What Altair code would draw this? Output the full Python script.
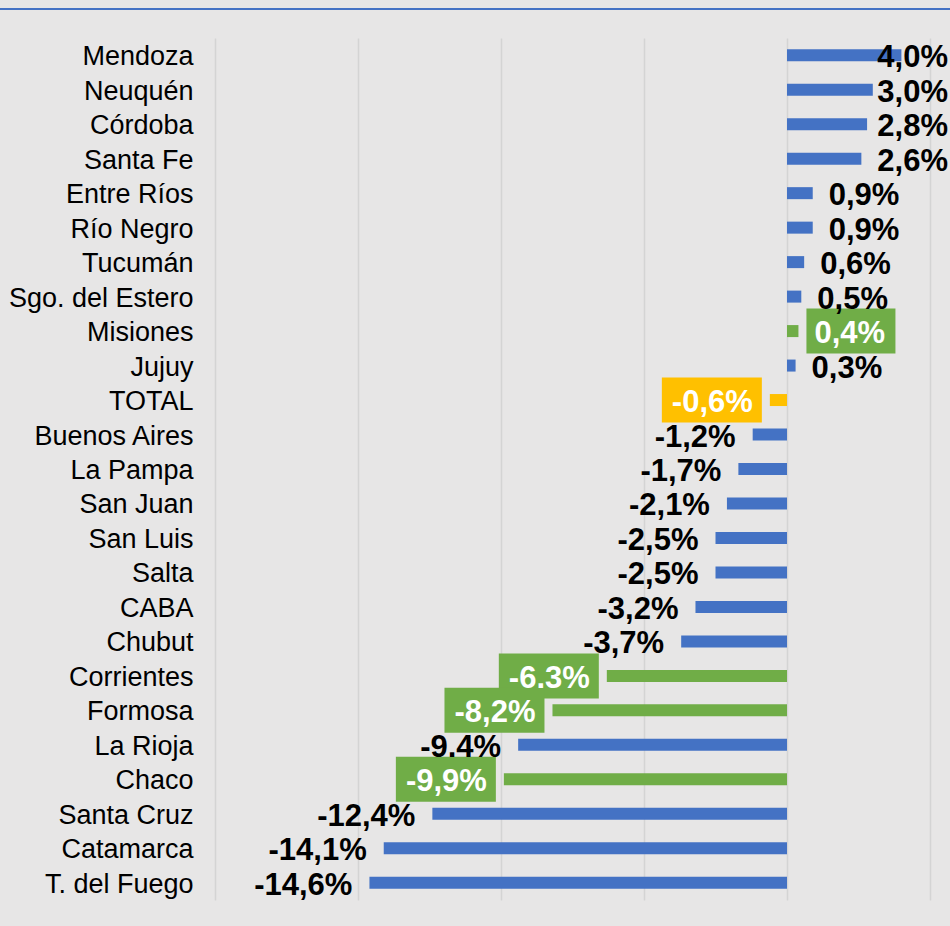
import altair as alt
import pandas as pd

provinces = ["Mendoza", "Neuquén", "Córdoba", "Santa Fe", "Entre Ríos", "Río Negro",
             "Tucumán", "Sgo. del Estero", "Misiones", "Jujuy", "TOTAL", "Buenos Aires",
             "La Pampa", "San Juan", "San Luis", "Salta", "CABA", "Chubut", "Corrientes",
             "Formosa", "La Rioja", "Chaco", "Santa Cruz", "Catamarca", "T. del Fuego"]
values = [4.0, 3.0, 2.8, 2.6, 0.9, 0.9, 0.6, 0.5, 0.4, 0.3, -0.6, -1.2, -1.7, -2.1,
          -2.5, -2.5, -3.2, -3.7, -6.3, -8.2, -9.4, -9.9, -12.4, -14.1, -14.6]
labels = ["4,0%", "3,0%", "2,8%", "2,6%", "0,9%", "0,9%", "0,6%", "0,5%", "0,4%", "0,3%",
          "-0,6%", "-1,2%", "-1,7%", "-2,1%", "-2,5%", "-2,5%", "-3,2%", "-3,7%", "-6.3%",
          "-8,2%", "-9.4%", "-9,9%", "-12,4%", "-14,1%", "-14,6%"]
groups = ["normal"] * 8 + ["highlight", "normal", "total"] + ["normal"] * 7 + \
         ["highlight", "highlight", "normal", "highlight", "normal", "normal", "normal"]

df = pd.DataFrame({"prov": provinces, "v": values, "lab": labels, "grp": groups})

BLUE = "#4472C4"
GREEN = "#70AD47"
YELLOW = "#FFC000"
FONT = "Liberation Sans"

color = alt.Color("grp:N", scale=alt.Scale(domain=["normal", "highlight", "total"],
                                           range=[BLUE, GREEN, YELLOW]), legend=None)
x = alt.X("v:Q", scale=alt.Scale(domain=[-20, 5], nice=False, zero=False),
          axis=alt.Axis(values=[-20, -15, -10, -5, 0, 5], labels=False, ticks=False,
                        domain=False, title=None, grid=True, gridColor="#d4d4d4",
                        gridWidth=1.5))
y = alt.Y("prov:N", sort=provinces,
          scale=alt.Scale(paddingInner=0, paddingOuter=0),
          axis=alt.Axis(title=None, ticks=False, domain=False, labelFontSize=27,
                        labelPadding=22, labelColor="#000000", labelFont=FONT,
                        labelLimit=400, labelOffset=2))

base = alt.Chart(df)

bars = base.mark_bar(size=12).encode(x=x, y=y, color=color)

box_neg = base.transform_filter("datum.grp != 'normal' && datum.v < 0").mark_bar(
    size=45, xOffset=-8, x2Offset=-108).encode(
    x="v:Q", x2="v:Q", y=alt.Y("prov:N", sort=provinces), color=color)
box_pos = base.transform_filter("datum.grp != 'normal' && datum.v > 0").mark_bar(
    size=45, xOffset=8, x2Offset=97).encode(
    x="v:Q", x2="v:Q", y=alt.Y("prov:N", sort=provinces), color=color)

txt = dict(font=FONT, fontSize=31, fontWeight="bold", baseline="middle", dy=3)

lab_pos = base.transform_filter("datum.v > 0 && datum.v <= 2.5").mark_text(
    align="left", dx=16, **txt).encode(
    x="v:Q", y=alt.Y("prov:N", sort=provinces), text="lab:N",
    color=alt.condition("datum.grp == 'normal'", alt.value("#000000"), alt.value("#ffffff")))
lab_clip = base.transform_filter("datum.v > 2.5").transform_calculate(lx="5").mark_text(
    align="right", dx=18, color="#000000", **txt).encode(
    x="lx:Q", y=alt.Y("prov:N", sort=provinces), text="lab:N")
lab_neg = base.transform_filter("datum.v < 0").mark_text(
    align="right", dx=-17, **txt).encode(
    x="v:Q", y=alt.Y("prov:N", sort=provinces), text="lab:N",
    color=alt.condition("datum.grp == 'normal'", alt.value("#000000"), alt.value("#ffffff")))

top_line = base.mark_rule(color=BLUE, strokeWidth=2).encode(
    x=alt.value(-215), x2=alt.value(735), y=alt.value(-29))

chart = alt.layer(bars, box_neg, box_pos, lab_pos, lab_clip, lab_neg, top_line).properties(
    width=715, height=862,
    autosize=alt.AutoSizeParams(type="none"),
    padding={"left": 215, "top": 38, "right": 20, "bottom": 26},
    background="#e7e6e6",
).configure_view(stroke=None)

chart.save("out.html", embed_options={"renderer": "svg", "actions": False})
